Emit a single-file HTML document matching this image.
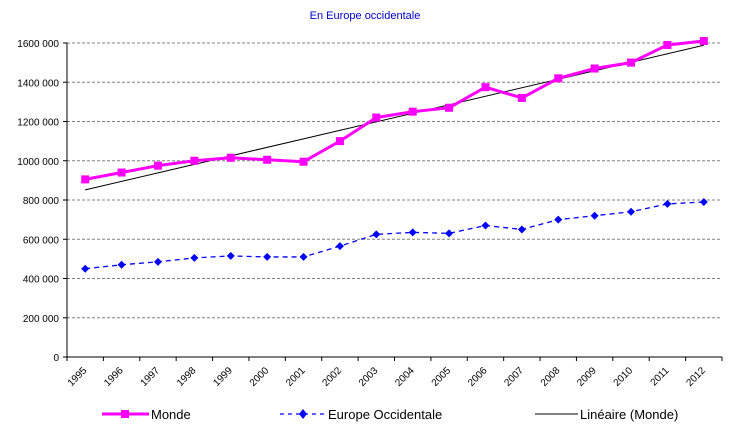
<!DOCTYPE html>
<html><head><meta charset="utf-8"><style>
html,body{margin:0;padding:0;background:#fff;}
svg{display:block;font-family:"Liberation Sans",sans-serif;}
</style></head><body>
<svg id="chart" width="730" height="434">
<text x="365" y="19" font-size="11" fill="#0000cc" text-anchor="middle">En Europe occidentale</text>
<g id="grid"></g><g id="axes"></g><g id="series"></g>
<g>
<g>
<line x1="102" y1="414" x2="149" y2="414" stroke="#ff00ff" stroke-width="3"/>
<rect x="121" y="410" width="8" height="8" fill="#ff00ff"/>
<text x="151" y="419" font-size="13">Monde</text></g>
<g>
<line x1="280" y1="414" x2="325" y2="414" stroke="#0000ff" stroke-width="1.3" stroke-dasharray="4,4"/>
<path d="M303 409 L307 414 L303 419 L299 414Z" fill="#0000ff"/>
<text x="328" y="419" font-size="13">Europe Occidentale</text></g>
<g>
<line x1="535" y1="414" x2="578" y2="414" stroke="#000" stroke-width="1"/>
<text x="580" y="419" font-size="13">Linéaire (Monde)</text></g>
</g>
</svg>
<script>
const categories=["1995","1996","1997","1998","1999","2000","2001","2002","2003","2004","2005","2006","2007","2008","2009","2010","2011","2012"];
const monde=[905000,940000,975000,1000000,1015000,1005000,995000,1100000,1220000,1250000,1270000,1375000,1320000,1420000,1470000,1500000,1590000,1610000];
const europe=[450000,470000,485000,505000,515000,510000,510000,565000,625000,635000,630000,670000,650000,700000,720000,740000,780000,790000];
const yTicks=[0,200000,400000,600000,800000,1000000,1200000,1400000,1600000];
const yLabels=["0","200 000","400 000","600 000","800 000","1000 000","1200 000","1400 000","1600 000"];
const NS="http://www.w3.org/2000/svg";
const L=67,R=722,T=43,B=357,step=(R-L)/categories.length;
function x(i){return L+step*(i+0.5);}
function y(v){return B-(v/1600000)*(B-T);}
function mk(tag,at,parent){const e=document.createElementNS(NS,tag);for(const k in at)e.setAttribute(k,at[k]);parent.appendChild(e);return e;}
const grid=document.getElementById('grid'),axes=document.getElementById('axes'),ser=document.getElementById('series');
yTicks.forEach((v,i)=>{
 if(v>0){const g=mk('line',{x1:L,x2:R,y1:y(v),y2:y(v),stroke:'#808080','stroke-dasharray':'3,2','stroke-width':1},grid);
 
 }
 mk('line',{x1:L-4,x2:L,y1:y(v),y2:y(v),stroke:'#000'},axes);
 const t=mk('text',{x:L-8,y:y(v)+4,'font-size':10,'text-anchor':'end'},axes);t.textContent=yLabels[i];
 
 
});
mk('line',{x1:L,x2:L,y1:T,y2:B,stroke:'#000'},axes);
mk('line',{x1:L,x2:R,y1:B,y2:B,stroke:'#000'},axes);
categories.forEach((c,i)=>{
 mk('line',{x1:L+step*i,x2:L+step*i,y1:B,y2:B+4,stroke:'#000'},axes);
 const t=mk('text',{x:x(i)+2,y:B+14,'font-size':10,'text-anchor':'end',transform:`rotate(-45 ${x(i)+2} ${B+14})`},axes);t.textContent=c;
 
 
});
mk('line',{x1:R,x2:R,y1:B,y2:B+4,stroke:'#000'},axes);
// linear trend of monde
const n=monde.length;let sx=0,sy=0,sxy=0,sxx=0;
monde.forEach((v,i)=>{sx+=i;sy+=v;sxy+=i*v;sxx+=i*i;});
const slope=(n*sxy-sx*sy)/(n*sxx-sx*sx),icp=(sy-slope*sx)/n;
const tr=mk('line',{x1:x(0),y1:y(icp),x2:x(n-1),y2:y(icp+slope*(n-1)),stroke:'#000','stroke-width':1},ser);


const pm=mk('polyline',{points:monde.map((v,i)=>x(i)+','+y(v)).join(' '),fill:'none',stroke:'#ff00ff','stroke-width':3},ser);


const pe=mk('polyline',{points:europe.map((v,i)=>x(i)+','+y(v)).join(' '),fill:'none',stroke:'#0000ff','stroke-width':1.3,'stroke-dasharray':'5,4'},ser);


monde.forEach((v,i)=>{const r=mk('rect',{x:x(i)-4,y:y(v)-4,width:8,height:8,fill:'#ff00ff'},ser);
 
 });
europe.forEach((v,i)=>{const X=x(i),Y=y(v);const d=mk('path',{d:`M${X} ${Y-4}L${X+4} ${Y}L${X} ${Y+4}L${X-4} ${Y}Z`,fill:'#0000ff'},ser);
 
 });
</script>
</body></html>
